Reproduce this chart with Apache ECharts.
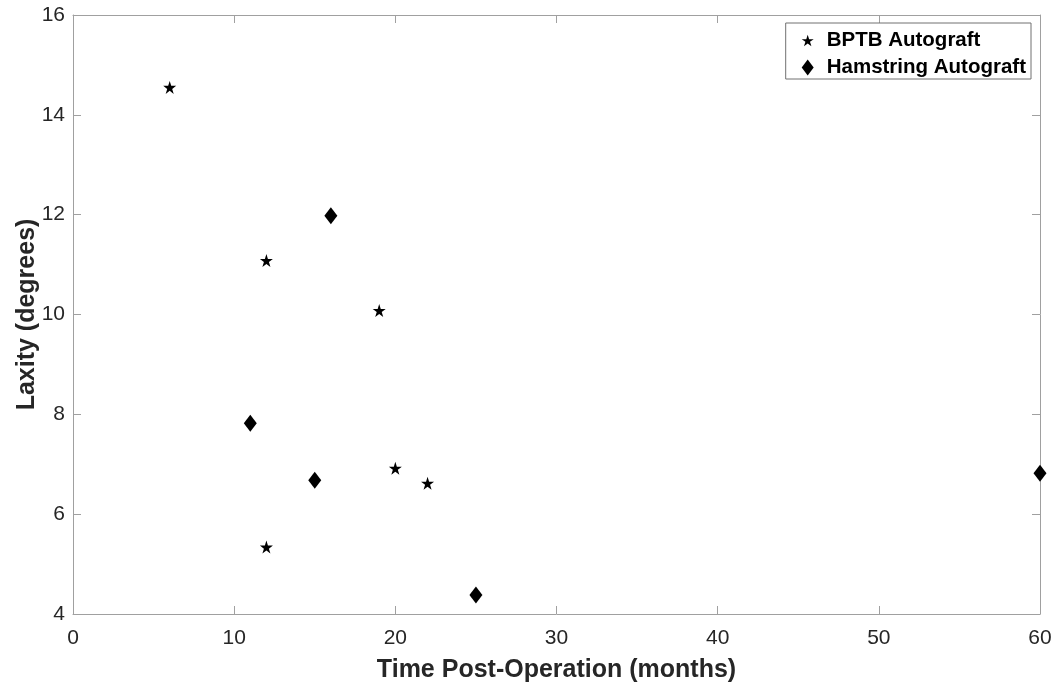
<!DOCTYPE html>
<html>
<head>
<meta charset="utf-8">
<script src="https://cdn.jsdelivr.net/npm/echarts@6/dist/echarts.min.js"></script>
<style>html,body{margin:0;padding:0;background:#fff;}#c{width:1059px;height:688px;}</style>
</head>
<body>
<div id="c"></div>
<script>
const bptbX = [6, 12, 19, 20, 22, 12];
const bptbY = [14.55, 11.08, 10.08, 6.92, 6.62, 5.34];
const hamX = [16, 11, 15, 25, 60];
const hamY = [11.98, 7.82, 6.68, 4.38, 6.82];
const xTicks = [0, 10, 20, 30, 40, 50, 60];
const yTicks = [4, 6, 8, 10, 12, 14, 16];

const star = 'path://M50,0 L61.2,34.5 L97.6,34.5 L68.2,55.9 L79.4,90.5 L50,69.1 L20.6,90.5 L31.8,55.9 L2.4,34.5 L38.8,34.5 Z';
const axisColor = '#a0a0a0';
const textColor = '#262626';
const font = 'Liberation Sans, Arial, sans-serif';

const chart = echarts.init(document.getElementById('c'));
function baseX() {
  return {
    type: 'value', min: xTicks[0], max: xTicks[xTicks.length - 1], interval: 10,
    axisLine: { show: true, onZero: false, lineStyle: { color: axisColor, width: 1 } },
    axisTick: { show: true, inside: true, length: 8, lineStyle: { color: axisColor } },
    splitLine: { show: false }
  };
}
function baseY() {
  return {
    type: 'value', min: yTicks[0], max: yTicks[yTicks.length - 1], interval: 2,
    axisLine: { show: true, onZero: false, lineStyle: { color: axisColor, width: 1 } },
    axisTick: { show: true, inside: true, length: 8, lineStyle: { color: axisColor } },
    splitLine: { show: false }
  };
}
chart.setOption({
  animation: false,
  backgroundColor: '#fff',
  grid: { left: 73, right: 19, top: 15, bottom: 74, containLabel: false, outerBoundsMode: 'none' },
  legend: {
    orient: 'vertical', right: 28, top: 23,
    backgroundColor: '#fff', borderColor: '#707070', borderWidth: 1,
    padding: [7, 5, 1, 16], itemGap: 6, itemWidth: 12, itemHeight: 16,
    textStyle: { fontFamily: font, fontSize: 20.5, fontWeight: 'bold', color: '#000', padding: [0, 0, 0, 8] },
    data: [
      { name: 'BPTB Autograft', icon: star, itemStyle: { color: '#000', opacity: 1 } },
      { name: 'Hamstring Autograft', icon: 'diamond', itemStyle: { color: '#000', opacity: 1 } }
    ]
  },
  xAxis: [
    Object.assign(baseX(), {
      position: 'bottom',
      name: 'Time Post-Operation (months)', nameLocation: 'middle', nameGap: 44,
      nameMoveOverlap: false,
      nameTextStyle: { fontFamily: font, fontSize: 25, fontWeight: 'bold', color: textColor },
      axisLabel: { show: true, margin: 14, fontFamily: font, fontSize: 21, color: textColor }
    }),
    Object.assign(baseX(), { position: 'top', axisLabel: { show: false } })
  ],
  yAxis: [
    Object.assign(baseY(), {
      position: 'left',
      name: 'Laxity (degrees)', nameLocation: 'middle', nameGap: 33,
      nameMoveOverlap: false,
      nameTextStyle: { fontFamily: font, fontSize: 25, fontWeight: 'bold', color: textColor },
      axisLabel: { show: true, margin: 8, fontFamily: font, fontSize: 21, color: textColor }
    }),
    Object.assign(baseY(), { position: 'right', axisLabel: { show: false } })
  ],
  series: [
    {
      name: 'BPTB Autograft', type: 'scatter', symbol: star, symbolSize: 13,
      itemStyle: { color: '#000', opacity: 1 },
      data: bptbX.map((x, i) => [x, bptbY[i]])
    },
    {
      name: 'Hamstring Autograft', type: 'scatter', symbol: 'diamond', symbolSize: [13, 17],
      itemStyle: { color: '#000', opacity: 1 }, clip: false,
      data: hamX.map((x, i) => [x, hamY[i]])
    }
  ]
});
</script>
</body>
</html>
